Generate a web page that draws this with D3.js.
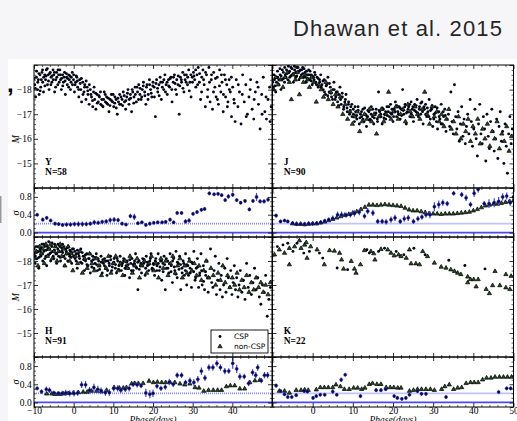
<!DOCTYPE html>
<html>
<head>
<meta charset="utf-8">
<script src="https://cdn.jsdelivr.net/npm/d3@7"></script>
<style>
  body { margin: 0; background: #f6f6f8; }
  svg { display: block; }
</style>
</head>
<body>
<script>
// ---- data: [phase (days), M] ----
const yCsp = [[-9.8,-18.2],[-9.6,-17.7],[-9.4,-18.5],[-9.1,-18.0],[-8.9,-18.4],[-8.7,-17.8],[-8.5,-18.6],[-8.3,-18.1],[-8.0,-18.7],[-7.8,-18.3],[-7.6,-17.9],[-7.3,-18.6],[-7.1,-18.4],[-6.9,-18.8],[-6.6,-18.2],[-6.4,-18.6],[-6.2,-18.0],[-5.9,-18.7],[-5.7,-18.5],[-5.5,-18.3],[-5.2,-18.8],[-5.0,-18.6],[-4.8,-17.9],[-4.5,-18.4],[-4.3,-18.7],[-4.0,-18.2],[-3.8,-18.6],[-3.5,-18.8],[-3.3,-18.4],[-3.1,-18.0],[-2.8,-18.6],[-2.6,-18.3],[-2.3,-18.7],[-2.1,-17.8],[-1.8,-18.5],[-1.6,-18.2],[-1.3,-18.6],[-1.1,-18.4],[-0.8,-18.0],[-0.6,-18.5],[-0.3,-18.2],[0.0,-18.6],[0.2,-17.9],[0.5,-18.3],[0.8,-18.5],[1.0,-18.1],[1.3,-17.7],[1.5,-18.4],[1.8,-18.0],[2.0,-17.5],[2.3,-18.3],[2.6,-17.9],[2.8,-18.2],[3.1,-17.6],[3.4,-18.1],[3.6,-17.8],[3.9,-17.4],[4.2,-18.0],[4.5,-17.7],[4.8,-17.3],[5.0,-17.9],[5.3,-17.6],[5.6,-17.2],[5.9,-17.8],[6.2,-17.5],[6.5,-17.7],[6.8,-17.4],[7.1,-17.6],[7.4,-17.3],[7.7,-17.9],[8.0,-17.5],[8.3,-17.7],[8.6,-17.4],[8.9,-17.1],[9.2,-17.6],[9.5,-17.8],[9.8,-17.5],[10.1,-17.3],[10.4,-17.7],[10.7,-17.6],[11.0,-17.0],[11.3,-17.5],[11.6,-17.8],[11.9,-17.4],[12.2,-17.6],[12.5,-17.9],[12.8,-17.5],[13.1,-17.2],[13.4,-17.7],[13.7,-18.0],[14.0,-17.6],[14.3,-17.8],[14.6,-17.1],[14.9,-17.9],[15.2,-17.7],[15.5,-18.1],[15.8,-17.5],[16.1,-17.9],[16.4,-18.2],[16.7,-17.8],[17.0,-17.6],[17.3,-18.0],[17.6,-18.3],[17.9,-17.9],[18.2,-17.4],[18.5,-18.2],[18.8,-17.8],[19.1,-18.4],[19.4,-18.0],[19.7,-17.7],[20.0,-18.3],[20.3,-18.1],[20.6,-16.9],[20.9,-18.4],[21.2,-17.9],[21.5,-18.2],[21.8,-18.5],[22.1,-17.6],[22.4,-18.3],[22.7,-18.0],[23.0,-18.6],[23.3,-18.2],[23.6,-17.8],[23.9,-18.4],[24.2,-18.1],[24.5,-18.5],[24.8,-17.5],[25.1,-18.3],[25.4,-18.6],[25.7,-18.0],[26.0,-18.4],[26.3,-18.2],[26.6,-17.0],[26.9,-18.5],[27.2,-18.3],[27.5,-18.7],[27.8,-17.9],[28.1,-18.4],[28.4,-18.6],[28.7,-18.2],[29.0,-18.8],[29.3,-18.3],[29.6,-17.7],[29.9,-18.5],[30.2,-18.7],[30.5,-18.4],[30.8,-18.1],[31.1,-18.6],[31.4,-18.9],[31.7,-18.3],[32.0,-17.6],[32.3,-18.5],[32.6,-18.8],[32.9,-18.2],[33.2,-17.3],[33.5,-18.6],[33.8,-18.0],[34.1,-18.9],[34.4,-17.5],[34.7,-18.4],[35.0,-17.2],[35.3,-18.7],[35.6,-18.1],[35.9,-17.7],[36.2,-18.5],[36.5,-17.4],[36.8,-18.8],[37.1,-17.9],[37.4,-18.3],[37.7,-17.1],[38.0,-18.6],[38.3,-17.7],[38.6,-18.2],[38.9,-17.5],[39.2,-18.4],[39.5,-17.9],[39.8,-16.9],[40.1,-18.1],[40.4,-17.6],[40.7,-16.7],[41.0,-18.4],[41.4,-17.3],[41.8,-17.9],[42.2,-16.6],[42.6,-18.6],[43.0,-17.5],[43.4,-18.2],[43.8,-17.0],[44.2,-17.7],[44.6,-18.4],[45.0,-17.2],[45.4,-16.8],[45.8,-17.9],[46.2,-18.3],[46.6,-17.4],[47.0,-16.4],[47.4,-17.8],[47.8,-18.5],[48.2,-17.1],[48.6,-16.8],[49.0,-17.6],[49.4,-18.1],[49.8,-17.3]];
const yCspB = [[-9.95,-18.45],[-9.65,-18.05],[-9.35,-18.75],[-9.05,-18.3],[-8.75,-18.65],[-8.45,-17.95],[-8.15,-18.4],[-7.85,-18.8],[-7.55,-18.5],[-7.25,-18.15],[-6.95,-18.55],[-6.65,-18.85],[-6.35,-18.35],[-6.05,-18.65],[-5.75,-18.2],[-5.45,-18.55],[-5.15,-18.4],[-4.85,-18.7],[-4.55,-18.1],[-4.25,-18.5],[-3.95,-18.8],[-3.65,-18.3],[-3.35,-18.6],[-3.05,-18.45],[-2.75,-18.15],[-2.45,-18.5],[-2.15,-18.35],[-1.85,-18.65],[-1.55,-18.45],[-1.25,-18.1],[-0.95,-18.55],[-0.65,-18.3],[-0.35,-18.7],[-0.05,-18.4],[0.35,-18.2],[0.65,-18.55],[0.95,-18.35],[1.25,-18.0],[1.65,-18.25],[1.95,-18.45],[2.35,-17.8],[2.75,-18.1],[3.15,-18.35],[3.55,-17.95],[3.95,-18.2],[4.35,-17.8],[4.75,-17.55],[5.15,-18.1],[5.55,-17.85],[5.95,-17.45],[6.35,-17.75],[6.75,-17.9],[7.15,-17.35],[7.55,-17.6],[7.95,-17.8],[8.35,-17.45],[8.75,-17.65],[9.15,-17.35],[9.55,-17.55],[9.95,-17.8],[10.35,-17.45],[10.75,-17.25],[11.15,-17.65],[11.55,-17.4],[11.95,-17.7],[12.35,-17.35],[12.75,-17.75],[13.15,-17.55],[13.55,-17.85],[13.95,-17.4],[14.35,-17.65],[14.75,-18.0],[15.15,-17.45],[15.55,-17.8],[15.95,-18.1],[16.35,-17.6],[16.75,-18.05],[17.15,-17.7],[17.55,-18.15],[17.95,-17.75],[18.35,-18.1],[18.75,-17.6],[19.15,-18.2],[19.55,-17.85],[19.95,-18.15],[20.35,-17.7],[20.75,-18.25],[21.15,-18.05],[21.55,-17.75],[21.95,-18.3],[22.35,-18.1],[22.75,-18.4],[23.15,-17.9],[23.55,-18.3],[23.95,-18.15],[24.35,-18.45],[24.75,-18.0],[25.15,-18.5],[25.55,-18.25],[25.95,-17.8],[26.35,-18.55],[26.75,-18.15],[27.15,-18.4],[27.55,-18.05],[27.95,-18.6],[28.35,-18.3],[28.75,-18.5],[29.15,-17.95],[29.55,-18.6],[29.95,-18.3],[30.35,-18.55],[30.75,-18.8],[31.25,-18.2],[31.75,-18.65],[32.25,-17.9],[32.75,-18.4],[33.25,-18.7],[33.75,-17.7],[34.25,-18.3],[34.75,-18.6],[35.25,-17.9],[35.75,-18.45],[36.25,-17.6],[36.75,-18.15],[37.25,-18.6],[37.75,-17.8],[38.25,-18.4],[38.75,-17.3],[39.25,-18.0],[39.75,-18.5],[40.5,-17.45],[41.5,-18.2],[42.5,-17.8],[43.5,-16.9],[44.5,-18.0],[45.5,-17.6],[46.5,-18.1],[47.5,-17.0],[48.5,-17.7],[49.5,-16.7]];

const jCsp = [[-9.8,-18.1],[-9.5,-18.4],[-9.2,-17.9],[-9.0,-18.3],[-8.7,-18.5],[-8.4,-18.2],[-8.1,-18.6],[-7.9,-18.0],[-7.6,-18.4],[-7.3,-18.7],[-7.0,-18.3],[-6.8,-18.6],[-6.5,-18.8],[-6.2,-18.4],[-5.9,-18.7],[-5.7,-18.5],[-5.4,-18.9],[-5.1,-18.6],[-4.8,-18.3],[-4.5,-18.8],[-4.2,-18.5],[-4.0,-18.9],[-3.7,-18.7],[-3.4,-18.4],[-3.1,-18.8],[-2.8,-18.6],[-2.5,-18.9],[-2.2,-18.5],[-1.9,-18.7],[-1.6,-18.3],[-1.3,-18.6],[-1.0,-18.8],[-0.7,-18.4],[-0.4,-18.6],[-0.1,-18.2],[0.2,-18.5],[0.5,-18.7],[0.8,-18.3],[1.1,-18.5],[1.4,-18.1],[1.7,-18.4],[2.0,-18.6],[2.3,-18.2],[2.6,-18.0],[2.9,-18.4],[3.2,-17.8],[3.5,-18.2],[3.8,-18.5],[4.1,-17.9],[4.4,-18.1],[4.7,-17.7],[5.0,-18.0],[5.3,-18.3],[5.6,-17.6],[5.9,-17.9],[6.2,-17.5],[6.5,-17.8],[6.8,-18.1],[7.1,-17.4],[7.4,-17.7],[7.7,-17.2],[8.0,-17.5],[8.3,-17.8],[8.6,-17.1],[8.9,-17.4],[9.2,-17.0],[9.5,-17.3],[9.8,-16.9],[10.1,-17.2],[10.4,-16.7],[10.7,-17.1],[11.0,-16.8],[11.3,-17.3],[11.6,-16.6],[11.9,-17.0],[12.2,-16.9],[12.5,-17.2],[12.8,-16.7],[13.1,-17.0],[13.4,-16.5],[13.7,-16.9],[14.0,-17.1],[14.3,-16.8],[14.6,-17.3],[14.9,-16.9],[15.2,-16.6],[15.5,-17.0],[15.8,-17.2],[16.1,-16.8],[16.4,-17.9],[16.7,-17.1],[17.0,-16.9],[17.3,-16.6],[17.6,-17.2],[17.9,-17.0],[18.2,-16.8],[18.5,-17.3],[18.8,-17.1],[19.1,-16.9],[19.4,-17.4],[19.7,-17.0],[20.0,-16.7],[20.3,-17.2],[20.6,-17.5],[20.9,-16.9],[21.2,-17.1],[21.5,-17.3],[21.8,-16.8],[22.1,-17.2],[22.4,-18.0],[22.7,-17.0],[23.0,-17.4],[23.3,-16.6],[23.6,-17.1],[23.9,-17.3],[24.2,-16.9],[24.5,-17.5],[24.8,-17.2],[25.1,-16.7],[25.4,-17.4],[25.7,-17.1],[26.0,-17.6],[26.3,-16.9],[26.6,-17.3],[26.9,-17.0],[27.2,-17.5],[27.5,-16.6],[27.8,-17.2],[28.1,-17.4],[28.4,-16.9],[28.7,-17.1],[29.0,-17.6],[29.3,-16.8],[29.6,-17.2],[29.9,-16.5],[30.2,-17.0],[30.5,-17.3],[30.8,-16.7],[31.1,-16.4],[31.4,-17.1],[31.7,-16.8],[32.0,-17.4],[32.3,-16.6],[32.6,-16.9],[32.9,-17.2],[33.2,-16.3],[33.5,-16.8],[33.8,-17.0],[34.1,-16.5],[34.4,-17.9],[34.7,-16.7],[35.0,-16.2],[35.3,-18.2],[35.6,-16.9],[35.9,-16.4],[36.2,-17.1],[36.5,-15.9],[36.8,-16.6],[37.1,-17.3],[37.4,-16.1],[37.7,-16.8],[38.0,-15.8],[38.3,-16.5],[38.6,-17.0],[38.9,-16.2],[39.2,-17.6],[39.5,-16.7],[39.8,-15.7],[40.1,-16.4],[40.4,-17.2],[40.7,-16.0],[41.0,-15.3],[41.3,-16.6],[41.6,-17.4],[41.9,-16.2],[42.2,-15.8],[42.5,-16.9],[42.8,-16.4],[43.1,-15.1],[43.4,-17.0],[43.7,-16.1],[44.0,-15.6],[44.3,-16.7],[44.6,-17.2],[44.9,-16.3],[45.2,-15.5],[45.5,-16.0],[45.8,-16.8],[46.1,-15.2],[46.4,-16.5],[46.7,-17.1],[47.0,-15.9],[47.3,-16.3],[47.6,-15.0],[47.9,-16.6],[48.2,-15.7],[48.5,-14.6],[48.8,-16.2],[49.1,-16.9],[49.4,-15.8],[49.7,-16.4]];
const jCspB = [[-9.95,-18.3],[-9.65,-18.6],[-9.35,-18.15],[-9.05,-18.5],[-8.75,-18.75],[-8.45,-18.4],[-8.15,-18.85],[-7.85,-18.55],[-7.55,-18.8],[-7.25,-18.45],[-6.95,-18.9],[-6.65,-18.5],[-6.35,-18.65],[-6.05,-18.95],[-5.75,-18.75],[-5.45,-18.55],[-5.15,-18.85],[-4.85,-18.65],[-4.55,-18.95],[-4.25,-18.7],[-3.95,-18.55],[-3.65,-18.9],[-3.35,-18.75],[-3.05,-18.5],[-2.75,-18.8],[-2.45,-18.65],[-2.15,-18.85],[-1.85,-18.5],[-1.55,-18.75],[-1.25,-18.45],[-0.95,-18.6],[-0.65,-18.75],[-0.35,-18.35],[-0.05,-18.55],[0.35,-18.4],[0.65,-18.6],[0.95,-18.2],[1.35,-18.45],[1.75,-18.3],[2.15,-18.1],[2.55,-18.35],[2.95,-17.9],[3.35,-18.15],[3.75,-17.75],[4.15,-18.25],[4.55,-17.85],[4.95,-17.6],[5.35,-18.0],[5.75,-17.7],[6.15,-17.9],[6.55,-17.35],[6.95,-17.6],[7.35,-17.85],[7.75,-17.3],[8.15,-17.6],[8.55,-17.25],[8.95,-17.5],[9.35,-17.15],[9.75,-17.4],[10.15,-17.0],[10.55,-17.3],[10.95,-16.95],[11.35,-17.15],[11.75,-16.85],[12.15,-17.1],[12.55,-16.8],[12.95,-17.25],[13.35,-16.95],[13.75,-17.15],[14.15,-16.75],[14.55,-17.0],[14.95,-17.2],[15.35,-16.85],[15.75,-17.05],[16.15,-16.7],[16.55,-17.15],[16.95,-17.0],[17.35,-17.25],[17.75,-16.85],[18.15,-17.1],[18.55,-16.95],[18.95,-17.3],[19.35,-17.05],[19.75,-17.2],[20.15,-16.9],[20.55,-17.1],[20.95,-17.35],[21.35,-17.0],[21.75,-17.25],[22.15,-16.95],[22.55,-17.15],[22.95,-17.3],[23.35,-17.05],[23.75,-17.2],[24.15,-17.4],[24.55,-17.0],[24.95,-17.3],[25.35,-17.15],[25.75,-17.35],[26.15,-17.05],[26.55,-17.2],[26.95,-17.45],[27.35,-17.1],[27.75,-17.3],[28.15,-17.0],[28.55,-17.25],[28.95,-16.9],[29.35,-17.15],[29.75,-17.35],[30.15,-16.8],[30.55,-17.05],[31.0,-17.25],[31.5,-16.9],[32.0,-16.6],[32.5,-17.1],[33.0,-16.95]];

const jNon = [[-9.7,-18.0],[-9.2,-18.5],[-8.6,-18.2],[-8.0,-18.4],[-7.4,-18.1],[-6.9,-18.5],[-6.3,-18.7],[-5.8,-18.3],[-5.3,-17.6],[-4.8,-18.6],[-4.3,-18.4],[-3.8,-18.7],[-3.3,-17.8],[-2.8,-18.5],[-2.3,-18.3],[-1.8,-18.6],[-1.3,-18.4],[-0.8,-18.1],[-0.3,-18.5],[0.3,-18.3],[0.9,-17.5],[1.5,-18.2],[2.1,-18.0],[2.7,-17.7],[3.3,-18.3],[3.9,-17.6],[4.5,-17.9],[5.1,-17.4],[5.7,-17.8],[6.3,-17.3],[6.9,-17.7],[7.5,-17.0],[8.1,-17.4],[8.7,-16.8],[9.3,-17.1],[9.9,-16.6],[10.5,-16.9],[11.1,-17.1],[11.7,-16.3],[12.3,-16.7],[12.9,-17.0],[13.5,-16.8],[14.1,-17.2],[14.7,-16.7],[15.3,-17.0],[15.9,-16.2],[16.5,-16.9],[17.1,-17.2],[17.7,-16.7],[18.3,-17.0],[18.9,-17.9],[19.5,-16.8],[20.1,-17.1],[20.7,-17.3],[21.3,-16.8],[21.9,-17.0],[22.5,-17.2],[23.1,-16.7],[23.7,-17.4],[24.3,-17.1],[24.9,-16.9],[25.5,-17.3],[26.1,-17.0],[26.7,-16.8],[27.3,-17.2],[27.9,-17.9],[28.5,-17.0],[29.1,-16.6],[29.7,-17.3],[30.3,-16.9],[30.9,-17.1],[31.5,-16.7],[32.1,-17.0],[32.7,-16.5],[33.3,-16.8],[33.9,-17.2],[34.5,-16.4],[35.1,-16.7],[35.7,-16.2],[36.3,-16.9],[36.9,-16.0],[37.5,-16.6],[38.1,-16.3],[38.7,-16.8],[39.3,-15.9],[39.9,-16.5],[40.5,-16.2],[41.1,-16.8],[41.7,-15.8],[42.3,-16.4],[42.9,-16.0],[43.5,-16.6],[44.1,-15.7],[44.7,-16.3],[45.3,-16.0],[45.9,-16.7],[46.5,-15.6],[47.1,-16.2],[47.7,-15.9],[48.3,-16.5],[48.9,-15.5],[49.5,-16.1]];

const hCsp = [[-9.9,-18.3],[-9.7,-17.9],[-9.5,-18.6],[-9.2,-18.1],[-9.0,-18.4],[-8.8,-17.7],[-8.5,-18.5],[-8.3,-18.2],[-8.0,-18.7],[-7.8,-18.0],[-7.5,-18.4],[-7.3,-18.6],[-7.0,-18.2],[-6.8,-17.8],[-6.5,-18.5],[-6.3,-18.8],[-6.0,-18.3],[-5.8,-18.0],[-5.5,-18.6],[-5.3,-18.4],[-5.0,-18.1],[-4.8,-18.7],[-4.5,-18.3],[-4.3,-17.9],[-4.0,-18.5],[-3.8,-18.2],[-3.5,-18.6],[-3.3,-18.0],[-3.0,-18.4],[-2.8,-18.7],[-2.5,-18.2],[-2.3,-17.8],[-2.0,-18.5],[-1.8,-18.3],[-1.5,-18.0],[-1.3,-18.6],[-1.0,-18.2],[-0.8,-18.4],[-0.5,-17.9],[-0.3,-18.5],[0.0,-18.2],[0.3,-18.4],[0.6,-18.0],[0.9,-17.7],[1.2,-18.3],[1.5,-18.1],[1.8,-18.5],[2.1,-17.9],[2.4,-18.2],[2.7,-17.6],[3.0,-18.0],[3.3,-18.3],[3.6,-17.8],[3.9,-18.1],[4.2,-17.5],[4.5,-18.0],[4.8,-18.2],[5.1,-17.7],[5.4,-17.9],[5.7,-18.3],[6.0,-17.6],[6.3,-18.0],[6.6,-17.8],[6.9,-18.2],[7.2,-17.5],[7.5,-17.9],[7.8,-18.1],[8.1,-17.7],[8.4,-17.4],[8.7,-18.0],[9.0,-17.8],[9.3,-18.2],[9.6,-17.6],[9.9,-17.9],[10.2,-18.1],[10.5,-17.7],[10.8,-17.5],[11.1,-18.0],[11.4,-17.8],[11.7,-18.2],[12.0,-17.6],[12.3,-17.9],[12.6,-18.1],[12.9,-17.4],[13.2,-17.8],[13.5,-18.0],[13.8,-17.7],[14.1,-17.3],[14.4,-17.9],[14.7,-18.1],[15.0,-17.6],[15.3,-17.9],[15.6,-18.3],[15.9,-17.7],[16.2,-16.8],[16.5,-18.0],[16.8,-17.8],[17.1,-17.5],[17.4,-18.1],[17.7,-17.9],[18.0,-17.4],[18.3,-18.2],[18.6,-17.8],[18.9,-17.6],[19.2,-18.0],[19.5,-18.3],[19.8,-17.7],[20.1,-17.9],[20.4,-17.4],[20.7,-18.1],[21.0,-17.8],[21.3,-18.3],[21.6,-17.6],[21.9,-18.0],[22.2,-17.2],[22.5,-17.9],[22.8,-18.2],[23.1,-16.8],[23.4,-17.7],[23.7,-18.0],[24.0,-17.5],[24.3,-18.3],[24.6,-17.8],[24.9,-17.1],[25.2,-18.1],[25.5,-17.6],[25.8,-18.4],[26.1,-17.3],[26.4,-17.9],[26.7,-18.2],[27.0,-16.8],[27.3,-17.7],[27.6,-18.0],[27.9,-17.4],[28.2,-18.3],[28.5,-17.0],[28.8,-17.8],[29.1,-18.1],[29.4,-17.5],[29.7,-16.9],[30.0,-17.9],[30.3,-18.4],[30.6,-17.2],[30.9,-17.7],[31.2,-18.1],[31.5,-16.9],[31.8,-17.5],[32.1,-18.3],[32.4,-17.0],[32.7,-17.8],[33.0,-16.8],[33.3,-17.4],[33.6,-18.0],[33.9,-16.7],[34.2,-17.3],[34.5,-18.5],[34.8,-17.1],[35.1,-16.9],[35.4,-17.6],[35.7,-18.2],[36.0,-16.6],[36.3,-17.2],[36.6,-17.9],[36.9,-16.8],[37.2,-17.4],[37.5,-16.5],[37.8,-17.0],[38.1,-17.7],[38.4,-16.7],[38.7,-18.1],[39.0,-17.3],[39.3,-16.9],[39.6,-17.6],[39.9,-16.6],[40.2,-17.1],[40.5,-17.8],[40.8,-16.8],[41.1,-17.3],[41.4,-16.5],[41.7,-17.0],[42.0,-17.6],[42.4,-16.7],[42.8,-17.2],[43.2,-16.4],[43.6,-17.9],[44.0,-16.9],[44.4,-17.4],[44.8,-16.6],[45.2,-17.1],[45.6,-17.7],[46.0,-16.8],[46.4,-17.3],[46.8,-16.5],[47.2,-16.2],[47.6,-17.0],[48.0,-16.7],[48.4,-17.4],[48.8,-15.7],[49.2,-16.4],[49.6,-16.9]];
const hCspB = [[-9.95,-18.5],[-9.65,-18.2],[-9.35,-18.35],[-9.05,-18.6],[-8.75,-18.15],[-8.45,-18.4],[-8.15,-18.55],[-7.85,-18.3],[-7.55,-18.7],[-7.25,-18.1],[-6.95,-18.45],[-6.65,-18.6],[-6.35,-18.25],[-6.05,-18.5],[-5.75,-18.35],[-5.45,-18.75],[-5.15,-18.2],[-4.85,-18.45],[-4.55,-18.6],[-4.25,-18.3],[-3.95,-18.7],[-3.65,-18.4],[-3.35,-18.15],[-3.05,-18.55],[-2.75,-18.35],[-2.45,-18.6],[-2.15,-18.1],[-1.85,-18.4],[-1.55,-18.55],[-1.25,-18.3],[-0.95,-18.45],[-0.65,-18.15],[-0.35,-18.35],[-0.05,-18.5],[0.35,-18.1],[0.65,-18.3],[0.95,-18.45],[1.35,-18.2],[1.75,-17.95],[2.15,-18.35],[2.55,-18.05],[2.95,-18.25],[3.35,-17.85],[3.75,-18.1],[4.15,-18.3],[4.55,-17.75],[4.95,-18.05],[5.35,-18.15],[5.75,-17.85],[6.15,-18.1],[6.55,-17.65],[6.95,-17.95],[7.35,-18.05],[7.75,-17.8],[8.15,-18.0],[8.55,-17.6],[8.95,-17.9],[9.35,-18.05],[9.75,-17.75],[10.15,-17.95],[10.55,-17.85],[10.95,-18.1],[11.35,-17.65],[11.75,-17.95],[12.15,-17.8],[12.55,-18.0],[12.95,-17.7],[13.35,-17.95],[13.75,-17.85],[14.15,-18.05],[14.55,-17.6],[14.95,-17.85],[15.35,-18.0],[15.75,-17.75],[16.15,-17.95],[16.55,-17.65],[16.95,-17.9],[17.35,-17.8],[17.75,-18.05],[18.15,-17.7],[18.55,-17.95],[18.95,-17.85],[19.35,-18.1],[19.75,-17.65],[20.15,-17.85],[20.55,-18.0],[20.95,-17.6],[21.35,-17.9],[21.75,-17.75],[22.15,-18.0],[22.55,-17.55],[22.95,-17.85],[23.35,-18.1],[23.75,-17.7],[24.15,-17.9],[24.55,-17.55],[24.95,-18.0],[25.35,-17.75],[25.75,-17.45],[26.15,-17.95],[26.55,-17.65],[26.95,-17.85],[27.35,-17.5],[27.75,-17.9],[28.15,-17.6],[28.55,-17.85],[28.95,-17.4],[29.35,-17.7],[29.75,-17.95],[30.25,-17.55],[30.75,-17.3],[31.25,-17.75],[31.75,-17.4],[32.25,-17.6],[32.75,-17.15],[33.25,-17.55],[33.75,-17.3]];

const hNon = [[-9.8,-18.1],[-9.4,-18.4],[-9.0,-17.8],[-8.6,-18.6],[-8.2,-18.3],[-7.8,-18.5],[-7.4,-17.9],[-7.0,-18.7],[-6.6,-18.2],[-6.2,-18.5],[-5.8,-18.7],[-5.4,-18.1],[-5.0,-18.4],[-4.6,-18.6],[-4.2,-18.0],[-3.8,-18.4],[-3.4,-18.7],[-3.0,-18.2],[-2.6,-18.5],[-2.2,-17.8],[-1.8,-18.3],[-1.4,-18.6],[-1.0,-18.0],[-0.6,-18.3],[-0.2,-17.6],[0.4,-18.2],[1.0,-17.9],[1.6,-18.4],[2.2,-17.5],[2.8,-18.1],[3.4,-17.7],[4.0,-18.3],[4.6,-17.9],[5.2,-17.6],[5.8,-18.1],[6.4,-17.8],[7.0,-17.4],[7.6,-18.0],[8.2,-17.7],[8.8,-18.2],[9.4,-17.5],[10.0,-17.9],[10.6,-18.2],[11.2,-17.6],[11.8,-17.9],[12.4,-17.4],[13.0,-18.0],[13.6,-17.7],[14.2,-18.2],[14.8,-17.5],[15.4,-17.8],[16.0,-18.1],[16.6,-17.3],[17.2,-17.8],[17.8,-18.0],[18.4,-17.5],[19.0,-17.9],[19.6,-18.2],[20.2,-17.6],[20.8,-17.9],[21.4,-17.3],[22.0,-18.1],[22.6,-17.7],[23.2,-18.0],[23.8,-17.4],[24.4,-17.9],[25.0,-18.2],[25.6,-17.5],[26.2,-17.8],[26.8,-18.1],[27.4,-17.3],[28.0,-17.8],[28.6,-17.5],[29.2,-18.0],[29.8,-17.6],[30.4,-17.9],[31.0,-17.4],[31.6,-17.8],[32.2,-17.2],[32.8,-17.6],[33.4,-18.0],[34.0,-17.3],[34.6,-17.7],[35.2,-17.4],[35.8,-17.0],[36.4,-17.5],[37.0,-17.2],[37.6,-17.8],[38.2,-17.1],[38.8,-17.4],[39.4,-16.9],[40.0,-17.3],[40.6,-17.0],[41.2,-17.5],[41.8,-16.8],[42.4,-17.2],[43.0,-16.9],[43.6,-17.4],[44.2,-16.7],[44.8,-17.1],[45.4,-16.8],[46.0,-17.3],[46.6,-16.9],[47.2,-17.1],[47.8,-16.7],[48.4,-17.0],[49.0,-16.6],[49.6,-17.1]];

const kCsp = [[-8.8,-18.6],[-7.4,-18.67],[-6.2,-18.74],[-4.9,-18.4],[-3.9,-18.74],[-2.2,-18.33],[-0.8,-18.4],[1.7,-18.33],[2.5,-18.12],[6.1,-17.71],[8.7,-17.64],[13.5,-18.47],[14.1,-18.33],[16.4,-18.4],[17.9,-18.53],[20.8,-18.4],[22.7,-18.26],[25.2,-18.53],[28.0,-18.26],[33.9,-18.03],[37.9,-17.81],[42.9,-17.67]];

const kNon = [[-9.5,-18.26],[-8.3,-18.47],[-7.0,-18.33],[-5.8,-18.53],[-5.8,-17.85],[-4.5,-18.6],[-3.3,-18.85],[-2.9,-18.53],[-2.0,-18.67],[-1.6,-18.77],[-1.4,-18.12],[-0.5,-18.6],[1.1,-18.47],[2.9,-17.85],[4.2,-18.44],[5.4,-18.42],[6.7,-18.33],[7.2,-18.05],[7.7,-17.67],[9.6,-17.99],[10.4,-17.67],[10.8,-17.5],[11.9,-17.85],[12.9,-18.44],[14.5,-18.4],[15.2,-18.31],[15.5,-18.05],[17.0,-18.49],[18.7,-18.47],[19.5,-18.33],[20.3,-18.22],[21.4,-18.26],[22.0,-18.19],[23.3,-18.12],[24.1,-18.47],[24.5,-17.89],[25.7,-17.89],[26.6,-17.85],[27.4,-18.4],[28.6,-18.19],[30.3,-17.92],[32.0,-17.75],[33.2,-17.71],[34.4,-17.64],[35.3,-17.57],[36.1,-17.5],[36.9,-17.44],[38.6,-17.34],[38.6,-17.1],[39.3,-17.23],[40.1,-17.23],[40.7,-16.93],[41.2,-17.23],[43.2,-16.82],[44.0,-16.65],[44.8,-16.98],[45.4,-17.57],[46.6,-16.98],[48.1,-16.89],[48.1,-17.44],[49.1,-16.82],[49.4,-17.37]];

// ---- dispersion: CSP [phase, sigma, err], non-CSP [phase, sigma] ----
const ySigCsp = [[-9.2,0.40,0.02],[-7.8,0.29,0.02],[-6.8,0.33,0.02],[-5.8,0.27,0.02],[-4.7,0.20,0.02],[-3.8,0.19,0.02],[-2.8,0.17,0.02],[-1.8,0.18,0.03],[-0.8,0.18,0.03],[0.2,0.19,0.03],[1.2,0.19,0.04],[2.2,0.19,0.04],[3.2,0.19,0.03],[4.2,0.20,0.03],[5.2,0.23,0.04],[6.2,0.22,0.03],[7.2,0.24,0.03],[8.2,0.25,0.03],[9.2,0.28,0.04],[10.2,0.29,0.04],[11.2,0.28,0.03],[12.2,0.20,0.02],[13.2,0.18,0.02],[14.3,0.37,0.03],[15.3,0.35,0.05],[16.2,0.21,0.02],[17.2,0.23,0.02],[18.2,0.17,0.02],[19.2,0.20,0.02],[20.2,0.22,0.02],[21.2,0.23,0.02],[22.3,0.23,0.02],[23.2,0.24,0.02],[24.3,0.29,0.02],[25.2,0.23,0.02],[26.1,0.44,0.02],[27.2,0.44,0.02],[28.2,0.25,0.03],[29.1,0.27,0.03],[30.1,0.42,0.02],[31.1,0.46,0.02],[32.2,0.51,0.02],[33.0,0.53,0.02],[34.2,0.88,0.02],[35.4,0.86,0.02],[36.4,0.87,0.02],[37.3,0.84,0.02],[38.2,0.73,0.02],[39.0,0.81,0.03],[40.1,0.85,0.03],[41.1,0.73,0.02],[42.1,0.67,0.02],[43.2,0.71,0.02],[44.3,0.52,0.02],[45.2,0.71,0.02],[46.1,0.80,0.07],[47.0,0.70,0.03],[48.0,0.70,0.03],[49.0,0.74,0.03]];

const jSigCsp = [[-9.1,0.38,0.02],[-8.0,0.25,0.02],[-7.0,0.27,0.02],[-6.2,0.25,0.02],[-5.0,0.21,0.02],[-4.0,0.19,0.02],[-3.0,0.19,0.02],[-2.0,0.19,0.03],[-1.0,0.20,0.03],[0.0,0.20,0.03],[1.0,0.21,0.03],[2.0,0.23,0.03],[3.0,0.26,0.03],[4.0,0.29,0.03],[5.0,0.32,0.04],[6.2,0.40,0.05],[7.2,0.40,0.05],[8.3,0.39,0.04],[9.4,0.40,0.04],[10.4,0.43,0.05],[11.6,0.46,0.05],[12.9,0.37,0.04],[13.7,0.48,0.05],[15.0,0.44,0.05],[16.2,0.25,0.04],[17.3,0.25,0.04],[18.3,0.24,0.04],[19.5,0.29,0.05],[20.5,0.33,0.05],[21.8,0.25,0.04],[22.8,0.31,0.05],[23.8,0.33,0.05],[25.1,0.25,0.04],[26.2,0.31,0.04],[27.2,0.35,0.04],[28.2,0.40,0.05],[29.2,0.40,0.06],[30.3,0.58,0.08],[31.4,0.63,0.07],[32.4,0.67,0.05],[33.5,0.65,0.04],[35.1,0.88,0.03],[37.1,0.85,0.04],[38.2,0.78,0.05],[39.3,0.63,0.04],[40.2,0.88,0.06],[41.2,0.97,0.05],[42.7,0.65,0.04],[43.9,0.65,0.08],[45.2,0.67,0.08],[46.3,0.70,0.08],[47.3,0.80,0.06],[48.3,0.82,0.06],[49.2,0.67,0.05],[50.0,0.80,0.06]];

const jSigNon = [[-5.0,0.20],[-4.0,0.19],[-3.0,0.19],[-2.0,0.18],[-1.0,0.19],[0.0,0.20],[1.0,0.20],[2.0,0.22],[3.0,0.24],[4.0,0.27],[5.0,0.30],[6.0,0.33],[7.0,0.36],[8.0,0.39],[9.0,0.41],[10.0,0.44],[11.0,0.47],[12.0,0.52],[13.0,0.57],[14.0,0.62],[15.0,0.62],[16.0,0.61],[17.0,0.62],[18.0,0.63],[19.0,0.62],[20.0,0.61],[21.0,0.60],[22.0,0.59],[23.0,0.55],[24.0,0.51],[25.0,0.49],[26.0,0.49],[27.0,0.47],[28.0,0.45],[29.0,0.43],[30.0,0.42],[31.0,0.42],[32.0,0.41],[33.0,0.42],[34.0,0.42],[35.0,0.42],[36.0,0.43],[37.0,0.44],[38.0,0.45],[39.0,0.46],[40.0,0.49],[41.0,0.52],[42.0,0.56],[43.0,0.60],[44.0,0.62],[45.0,0.64],[46.0,0.64],[47.0,0.66],[48.0,0.68],[49.0,0.70],[50.0,0.72]];

const hSigCsp = [[-9.2,0.31,0.02],[-8.1,0.24,0.03],[-6.9,0.29,0.04],[-6.1,0.27,0.04],[-5.0,0.21,0.03],[-3.9,0.20,0.03],[-2.9,0.20,0.04],[-2.0,0.21,0.05],[-1.0,0.20,0.05],[0.1,0.20,0.05],[1.0,0.21,0.04],[2.0,0.39,0.05],[3.0,0.39,0.06],[4.0,0.27,0.05],[5.1,0.33,0.06],[6.1,0.29,0.06],[6.9,0.26,0.05],[8.0,0.22,0.05],[9.0,0.22,0.05],[10.1,0.31,0.05],[11.1,0.31,0.05],[11.9,0.27,0.04],[13.0,0.29,0.04],[14.0,0.31,0.05],[15.0,0.40,0.04],[16.0,0.39,0.04],[17.0,0.37,0.04],[18.2,0.21,0.07],[19.2,0.18,0.07],[20.0,0.20,0.06],[21.0,0.36,0.04],[22.0,0.31,0.04],[23.1,0.34,0.04],[24.1,0.45,0.05],[25.1,0.40,0.04],[26.1,0.60,0.04],[27.2,0.60,0.04],[28.2,0.44,0.04],[29.3,0.48,0.05],[30.3,0.44,0.05],[31.3,0.51,0.05],[32.2,0.69,0.06],[33.1,0.54,0.05],[34.1,0.77,0.05],[35.1,0.77,0.05],[36.1,0.86,0.05],[37.0,0.77,0.05],[38.1,0.69,0.05],[39.1,0.69,0.04],[40.1,0.86,0.10],[41.1,0.74,0.07],[41.9,0.57,0.05],[43.0,0.57,0.04],[44.1,0.42,0.04],[45.1,0.66,0.05],[45.9,0.60,0.05],[46.4,0.77,0.05],[47.3,0.48,0.04],[48.1,0.60,0.05],[48.9,0.60,0.05]];

const hSigNon = [[-6.8,0.19],[-5.5,0.19],[-4.7,0.18],[-3.6,0.18],[-2.6,0.19],[-1.4,0.20],[-0.1,0.21],[1.2,0.22],[2.4,0.23],[3.4,0.23],[4.5,0.25],[5.8,0.25],[7.0,0.24],[8.3,0.27],[10.2,0.33],[11.5,0.32],[12.5,0.32],[13.3,0.33],[14.6,0.41],[15.4,0.42],[16.3,0.42],[17.5,0.42],[19.0,0.47],[20.1,0.44],[21.1,0.45],[22.2,0.44],[23.2,0.44],[24.3,0.44],[25.5,0.44],[26.8,0.41],[28.0,0.39],[29.3,0.41],[30.6,0.33],[31.6,0.32],[32.8,0.25],[34.0,0.27],[35.2,0.27],[36.3,0.27],[37.3,0.27],[38.5,0.35],[39.5,0.37],[40.6,0.37],[41.9,0.30],[43.1,0.30],[44.4,0.44],[45.7,0.48],[46.9,0.49]];

const kSigCsp = [[-9.1,0.37,0.02],[-8.0,0.25,0.02],[-7.0,0.18,0.02],[-6.2,0.12,0.02],[-5.2,0.12,0.02],[-4.1,0.16,0.02],[-2.1,0.25,0.02],[-1.3,0.24,0.02],[0.1,0.10,0.02],[0.9,0.14,0.02],[1.9,0.17,0.02],[3.0,0.17,0.02],[5.0,0.24,0.03],[6.0,0.17,0.02],[7.1,0.50,0.03],[8.1,0.61,0.02],[11.9,0.14,0.02],[15.8,0.27,0.02],[17.0,0.27,0.02],[18.2,0.29,0.02],[20.3,0.14,0.02],[21.1,0.10,0.02],[22.2,0.08,0.02],[23.2,0.10,0.02],[24.1,0.17,0.02],[26.1,0.25,0.02],[27.1,0.19,0.02],[28.2,0.19,0.02],[33.2,0.12,0.02],[46.3,0.23,0.02],[48.3,0.31,0.02],[49.3,0.31,0.02]];

const kSigNon = [[-8.3,0.25],[-7.0,0.25],[-5.8,0.21],[-4.1,0.27],[-2.9,0.27],[-2.0,0.28],[-1.1,0.27],[0.9,0.28],[1.9,0.33],[2.9,0.33],[3.9,0.33],[5.0,0.33],[5.8,0.39],[6.9,0.35],[7.9,0.29],[9.1,0.29],[10.2,0.32],[11.2,0.32],[12.2,0.29],[13.0,0.32],[14.1,0.40],[14.9,0.42],[16.0,0.40],[17.0,0.40],[18.3,0.33],[19.3,0.33],[20.2,0.33],[21.2,0.32],[22.0,0.32],[24.1,0.25],[25.1,0.27],[26.1,0.29],[27.1,0.29],[28.2,0.29],[29.3,0.29],[30.3,0.27],[32.1,0.29],[32.9,0.35],[34.0,0.39],[35.1,0.29],[36.1,0.32],[37.1,0.33],[38.2,0.42],[39.3,0.44],[40.2,0.44],[41.2,0.44],[42.3,0.50],[43.3,0.54],[44.4,0.54],[45.4,0.56],[46.5,0.56],[47.5,0.56],[48.5,0.56],[49.5,0.56]];

const xMajor = [-10, 0, 10, 20, 30, 40, 50];
const mMajor = [-19, -18, -17, -16, -15, -14];
const mLabelled = [-18, -17, -16, -15];
const sMajor = [0.0, 0.4, 0.8];
const panelNames = [["Y", "N=58"], ["J", "N=90"], ["H", "N=91"], ["K", "N=22"]];
const legendLabels = ["CSP", "non-CSP"];
const title = "Dhawan et al. 2015";

// ---- layout ----
const serif = "'Liberation Serif','Times New Roman',serif";
const cols = [[34, 272], [272.5, 513.5]];
const mRows = [[65, 188], [237, 357]];
const sRows = [[188, 237], [357, 407]];
const triFill = "#234a21";

const svg = d3.select("body").append("svg")
    .attr("width", 517)
    .attr("height", 421);

svg.append("rect")
    .attr("x", 8).attr("y", 59)
    .attr("width", 509).attr("height", 362)
    .attr("fill", "#fff");

svg.append("rect")
    .attr("x", 0).attr("y", 196)
    .attr("width", 1.5).attr("height", 27)
    .attr("fill", "#9a9a9a");

svg.append("text")
    .attr("x", 7).attr("y", 92)
    .attr("font-family", "'Liberation Sans',Arial,sans-serif")
    .attr("font-weight", "bold")
    .attr("font-size", 24)
    .text(",");

svg.append("text")
    .attr("x", 293).attr("y", 36)
    .attr("font-family", "'Liberation Sans',Arial,sans-serif")
    .attr("font-size", 22)
    .attr("fill", "#262626")
    .attr("textLength", 209)
    .attr("lengthAdjust", "spacing")
    .text(title);

const triangle = d3.symbol().type(d3.symbolTriangle).size(8);
let clipId = 0;

// one set of inward ticks (major + minor) along one side of a panel
function addAxis(g, mk, transform, major, minor, showLabel, fmt, pad) {
  const a = g.append("g").attr("transform", transform)
      .call(mk().tickValues(major).tickSizeInner(-4).tickSizeOuter(0).tickPadding(pad)
        .tickFormat(d => showLabel(d) ? fmt(d) : ""));
  a.select(".domain").remove();
  a.selectAll("line").attr("stroke", "#000").attr("stroke-width", 0.8);
  a.attr("font-family", serif).attr("font-size", 9.5);
  a.selectAll("text").attr("fill", "#000");
  const b = g.append("g").attr("transform", transform)
      .call(mk().tickValues(minor).tickSizeInner(-2).tickSizeOuter(0).tickFormat(""));
  b.select(".domain").remove();
  b.selectAll("line").attr("stroke", "#000").attr("stroke-width", 0.6);
}

function frame(x, y, yMajor, yMinor, yFmt, leftLabels, bottomLabels) {
  const [l, r] = x.range();
  const top = d3.min(y.range()), bot = d3.max(y.range());
  const g = svg.append("g");
  const xMinor = d3.range(-10, 51, 2).filter(v => v % 10 !== 0);
  const none = () => false;
  addAxis(g, () => d3.axisBottom(x), `translate(0,${bot})`, xMajor, xMinor,
    bottomLabels || none, d3.format("d"), 0.3);
  addAxis(g, () => d3.axisTop(x), `translate(0,${top})`, xMajor, xMinor, none, d3.format("d"), 2);
  addAxis(g, () => d3.axisLeft(y), `translate(${l},0)`, yMajor, yMinor,
    leftLabels || none, yFmt, 2.3);
  addAxis(g, () => d3.axisRight(y), `translate(${r},0)`, yMajor, yMinor, none, yFmt, 2);
  g.append("rect")
      .attr("x", l).attr("y", top)
      .attr("width", r - l).attr("height", bot - top)
      .attr("fill", "none")
      .attr("stroke", "#000")
      .attr("stroke-width", 1);
}

function plotArea(x, y) {
  const [l, r] = x.range();
  const top = d3.min(y.range()), bot = d3.max(y.range());
  const id = "clip" + (clipId++);
  svg.append("clipPath").attr("id", id)
    .append("rect").attr("x", l).attr("y", top).attr("width", r - l).attr("height", bot - top);
  return svg.append("g").attr("clip-path", `url(#${id})`);
}

function drawTriangles(g, data, x, y) {
  g.selectAll("path.tri").data(data).join("path")
      .attr("class", "tri")
      .attr("transform", d => `translate(${x(d[0])},${y(d[1])})`)
      .attr("d", triangle)
      .attr("fill", triFill)
      .attr("stroke", "#000")
      .attr("stroke-width", 0.7);
}

function magPanel(col, row, csp, non, name) {
  const x = d3.scaleLinear().domain([-10, 50]).range(cols[col]);
  const y = d3.scaleLinear().domain([-19, -14]).range(mRows[row]);
  const g = plotArea(x, y);

  g.selectAll("circle").data(csp).join("circle")
      .attr("cx", d => x(d[0]))
      .attr("cy", d => y(d[1]))
      .attr("r", 1.45)
      .attr("fill", "#05051a");
  drawTriangles(g, non, x, y);

  const yMinor = d3.range(-19, -13.99, 0.2).map(v => +v.toFixed(1)).filter(v => v % 1 !== 0);
  frame(x, y, mMajor, yMinor, d3.format("d"),
    col === 0 ? (d => mLabelled.includes(d)) : null, null);

  const lx = x(-7.2), ly = mRows[row][1];
  name.forEach((t, i) => {
    svg.append("text")
        .attr("x", lx).attr("y", ly - 23 + i * 10)
        .attr("font-family", serif).attr("font-weight", "bold").attr("font-size", 9.5)
        .text(t);
  });
}

function sigmaPanel(col, row, csp, non) {
  const x = d3.scaleLinear().domain([-10, 50]).range(cols[col]);
  const y = d3.scaleLinear().domain([-0.1, 1.0]).range([sRows[row][1], sRows[row][0]]);
  const g = plotArea(x, y);

  g.append("line")
      .attr("x1", x(-10)).attr("x2", x(50))
      .attr("y1", y(0)).attr("y2", y(0))
      .attr("stroke", "#4b4bf2").attr("stroke-width", 1.8);
  g.append("line")
      .attr("x1", x(-10)).attr("x2", x(50))
      .attr("y1", y(0.2)).attr("y2", y(0.2))
      .attr("stroke", "#8585ff").attr("stroke-width", 1.6)
      .attr("stroke-dasharray", "1,1");

  drawTriangles(g, non, x, y);

  g.selectAll("line.err").data(csp).join("line")
      .attr("class", "err")
      .attr("x1", d => x(d[0])).attr("x2", d => x(d[0]))
      .attr("y1", d => y(d[1] - d[2] - 0.02)).attr("y2", d => y(d[1] + d[2] + 0.02))
      .attr("stroke", "#3d3dff").attr("stroke-width", 1.2);

  g.selectAll("circle").data(csp).join("circle")
      .attr("cx", d => x(d[0]))
      .attr("cy", d => y(d[1]))
      .attr("r", 1.6)
      .attr("fill", "#0a0a3c")
      .attr("stroke", "#2b2bd0")
      .attr("stroke-width", 0.4);

  const yMinor = d3.range(-0.1, 1.001, 0.1).map(v => +v.toFixed(1)).filter(v => !sMajor.includes(v));
  frame(x, y, sMajor, yMinor, d3.format(".1f"), col === 0 ? (() => true) : null,
    row === 1 ? (col === 0 ? (d => d < 50) : (d => d > -10)) : null);
}

magPanel(0, 0, yCsp.concat(yCspB), [], panelNames[0]);
magPanel(1, 0, jCsp.concat(jCspB), jNon, panelNames[1]);
magPanel(0, 1, hCsp.concat(hCspB), hNon, panelNames[2]);
magPanel(1, 1, kCsp, kNon, panelNames[3]);

sigmaPanel(0, 0, ySigCsp, []);
sigmaPanel(1, 0, jSigCsp, jSigNon);
sigmaPanel(0, 1, hSigCsp, hSigNon);
sigmaPanel(1, 1, kSigCsp, kSigNon);

// axis titles
[[139, "M"], [297, "M"], [213, "σ"], [382, "σ"]].forEach(([cy, t]) => {
  svg.append("text")
      .attr("transform", `translate(19,${cy}) rotate(-90)`)
      .attr("text-anchor", "middle")
      .attr("font-family", serif).attr("font-style", "italic").attr("font-size", 10)
      .text(t);
});
[153, 393].forEach(cx => {
  svg.append("text")
      .attr("x", cx).attr("y", 422.5)
      .attr("text-anchor", "middle")
      .attr("font-family", serif).attr("font-style", "italic").attr("font-size", 9.5)
      .text("Phase(days)");
});

// legend inside the H panel
const leg = svg.append("g").attr("transform", "translate(211,330)");
leg.append("rect")
    .attr("width", 57).attr("height", 23)
    .attr("fill", "#fff").attr("stroke", "#000").attr("stroke-width", 0.9);
leg.append("circle").attr("cx", 9).attr("cy", 6.5).attr("r", 1.45).attr("fill", "#05051a");
leg.append("path")
    .attr("transform", "translate(9,16.5)")
    .attr("d", triangle)
    .attr("fill", triFill).attr("stroke", "#000").attr("stroke-width", 0.7);
legendLabels.forEach((t, i) => {
  leg.append("text")
      .attr("x", 23).attr("y", 9.3 + i * 10)
      .attr("font-family", "'DejaVu Sans',sans-serif").attr("font-size", 7.5)
      .text(t);
});
</script>
</body>
</html>
